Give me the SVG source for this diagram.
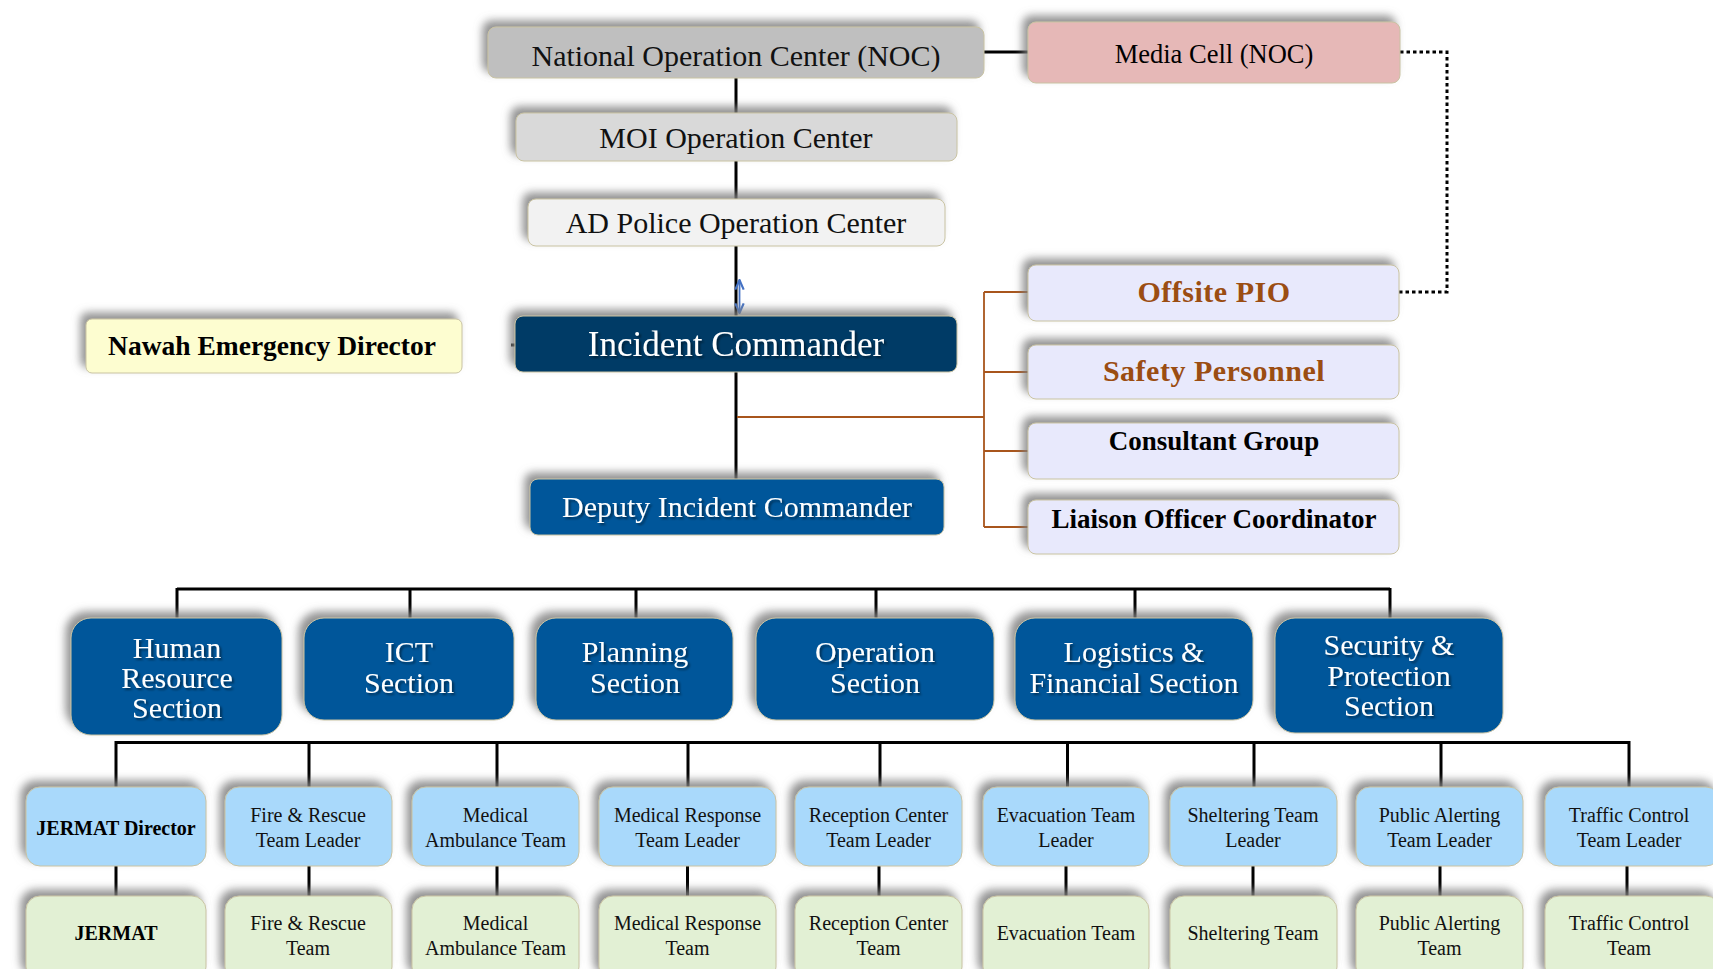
<svg xmlns="http://www.w3.org/2000/svg" width="1713" height="969" viewBox="0 0 1713 969">
<defs>
<filter id="sh" x="-15%" y="-40%" width="130%" height="180%">
<feGaussianBlur in="SourceAlpha" stdDeviation="4"/>
<feOffset dx="-5" dy="-6" result="b"/>
<feFlood flood-color="#7f7f7f" flood-opacity="0.85"/>
<feComposite in2="b" operator="in"/>
<feMerge><feMergeNode/><feMergeNode in="SourceGraphic"/></feMerge>
</filter>
<filter id="ts" x="-5%" y="-20%" width="110%" height="140%">
<feDropShadow dx="2" dy="2" stdDeviation="0.8" flood-color="#000" flood-opacity="0.45"/>
</filter>
<marker id="ab" viewBox="0 0 10 10" refX="9" refY="5" markerWidth="12" markerHeight="12" markerUnits="userSpaceOnUse" orient="auto-start-reverse">
<path d="M1,1.5 L9,5 L1,8.5" fill="none" stroke="#4472C4" stroke-width="1.8"/>
</marker>
</defs>
<style>
text{font-family:"Liberation Serif","Times New Roman",serif;text-anchor:middle}
.box{filter:url(#sh);stroke:#c9c3a3;stroke-width:1}
.top{font-size:30px;fill:#111}
.brn{font-size:30px;font-weight:bold;fill:#9b4d12;letter-spacing:0.5px}
.blk{font-size:27px;font-weight:bold;fill:#000}
.wh{fill:#fff;filter:url(#ts)}
.sec{fill:#03579a}
.sect{font-size:30px;fill:#fff}
.ldr{fill:#a9d9fb}
.tm{fill:#e2f0d4}
.sm{font-size:20px;fill:#111}
.smb{font-size:20px;font-weight:bold;fill:#000}
.ln{stroke:#000;stroke-width:3;fill:none}
.or{stroke:#a8551c;stroke-width:1.8;fill:none}
</style>
<rect width="1713" height="969" fill="#fff"/>

<g id="connectors">
<path class="ln" d="M736,78V113M736,161V199M736,246V316M736,372V479"/>
<path class="ln" d="M984,52H1028"/>
<path d="M1400,52H1447V292H1399" fill="none" stroke="#000" stroke-width="3" stroke-dasharray="3.5 3"/>
<line x1="739.5" y1="280" x2="739.5" y2="313" stroke="#4472C4" stroke-width="1.8" marker-start="url(#ab)" marker-end="url(#ab)"/>
<path class="or" d="M737,417H984M984,292V527M984,292H1028M984,372H1028M984,451H1028M984,527H1028"/>
<path class="ln" stroke-width="1.5" d="M511,345H516"/>
<path class="ln" d="M177,589H1390M177,588V618M410,588V618M636,588V618M876,588V618M1135,588V618M1390,588V618"/>
<path class="ln" d="M115.5,742.5H1629.5M116,741V787M309,741V787M497,741V787M688,741V787M880,741V787M1067.5,741V787M1254,741V787M1441,741V787M1629,741V787"/>
<path class="ln" d="M116,866V896M309,866V896M497,866V896M687.5,866V896M879,866V896M1066,866V896M1253,866V896M1440,866V896M1627,866V896"/>
</g>

<g id="noc"><rect class="box" x="488" y="27" width="496" height="51" rx="8" fill="#bfbfbf"/><text class="top" x="736" y="66">National Operation Center (NOC)</text></g>
<g id="moi"><rect class="box" x="516" y="113" width="441" height="48" rx="8" fill="#d9d9d9"/><text class="top" x="736" y="148">MOI Operation Center</text></g>
<g id="adpolice"><rect class="box" x="528" y="199" width="417" height="47" rx="8" fill="#f2f2f2"/><text class="top" x="736" y="233">AD Police Operation Center</text></g>
<g id="media"><rect class="box" x="1028" y="22" width="372" height="61" rx="8" fill="#e6b8b7"/><text x="1214" y="63" style="font-size:26.5px;fill:#000">Media Cell (NOC)</text></g>
<g id="offsite"><rect class="box" x="1028" y="265" width="371" height="56" rx="8" fill="#e8e9fc"/><text class="brn" x="1214" y="302">Offsite PIO</text></g>
<g id="safety"><rect class="box" x="1028" y="345" width="371" height="54" rx="8" fill="#e8e9fc"/><text class="brn" x="1214" y="381">Safety Personnel</text></g>
<g id="consultant"><rect class="box" x="1028" y="423" width="371" height="56" rx="8" fill="#e8e9fc"/><text class="blk" x="1214" y="450">Consultant Group</text></g>
<g id="liaison"><rect class="box" x="1028" y="500" width="371" height="54" rx="8" fill="#e8e9fc"/><text class="blk" x="1214" y="528">Liaison Officer Coordinator</text></g>
<g id="nawah"><rect class="box" x="86" y="319" width="376" height="54" rx="6" fill="#fdfdd0"/><text class="blk" x="272" y="355" style="font-size:27.5px">Nawah Emergency Director</text></g>
<g id="ic"><rect class="box" x="515" y="316" width="442" height="56" rx="8" fill="#023a66"/><text class="wh" x="736" y="356" style="font-size:35px">Incident Commander</text></g>
<g id="deputy"><rect class="box" x="530" y="479" width="414" height="56" rx="8" fill="#03569a"/><text class="wh" x="737" y="517" style="font-size:30px">Deputy Incident Commander</text></g>

<g id="hr"><rect class="box sec" x="71" y="618" width="211" height="117" rx="20"/><text class="sect wh" x="177"><tspan x="177" y="658">Human</tspan><tspan x="177" y="688">Resource</tspan><tspan x="177" y="718">Section</tspan></text></g>
<g id="ict"><rect class="box sec" x="304" y="618" width="210" height="102" rx="20"/><text class="sect wh" x="409"><tspan x="409" y="662">ICT</tspan><tspan x="409" y="693">Section</tspan></text></g>
<g id="planning"><rect class="box sec" x="536" y="618" width="197" height="102" rx="20"/><text class="sect wh" x="635"><tspan x="635" y="662">Planning</tspan><tspan x="635" y="693">Section</tspan></text></g>
<g id="operation"><rect class="box sec" x="756" y="618" width="238" height="102" rx="20"/><text class="sect wh" x="875"><tspan x="875" y="662">Operation</tspan><tspan x="875" y="693">Section</tspan></text></g>
<g id="logistics"><rect class="box sec" x="1015" y="618" width="238" height="102" rx="20"/><text class="sect wh" x="1134"><tspan x="1134" y="662">Logistics &amp;</tspan><tspan x="1134" y="693">Financial Section</tspan></text></g>
<g id="security"><rect class="box sec" x="1275" y="618" width="228" height="115" rx="20"/><text class="sect wh" x="1389"><tspan x="1389" y="655">Security &amp;</tspan><tspan x="1389" y="686">Protection</tspan><tspan x="1389" y="716">Section</tspan></text></g>

<g id="jermat-director"><rect class="box ldr" x="26" y="787" width="180" height="79" rx="14"/><text class="smb" x="116" y="835">JERMAT Director</text></g>
<g id="fire-leader"><rect class="box ldr" x="225" y="787" width="167" height="79" rx="14"/><text class="sm"><tspan x="308" y="822">Fire &amp; Rescue</tspan><tspan x="308" y="847">Team Leader</tspan></text></g>
<g id="ma-leader"><rect class="box ldr" x="412" y="787" width="167" height="79" rx="14"/><text class="sm"><tspan x="495.5" y="822">Medical</tspan><tspan x="495.5" y="847">Ambulance Team</tspan></text></g>
<g id="mr-leader"><rect class="box ldr" x="599" y="787" width="177" height="79" rx="14"/><text class="sm"><tspan x="687.5" y="822">Medical Response</tspan><tspan x="687.5" y="847">Team Leader</tspan></text></g>
<g id="rc-leader"><rect class="box ldr" x="795" y="787" width="167" height="79" rx="14"/><text class="sm"><tspan x="878.5" y="822">Reception Center</tspan><tspan x="878.5" y="847">Team Leader</tspan></text></g>
<g id="evac-leader"><rect class="box ldr" x="983" y="787" width="166" height="79" rx="14"/><text class="sm"><tspan x="1066" y="822">Evacuation Team</tspan><tspan x="1066" y="847">Leader</tspan></text></g>
<g id="shelter-leader"><rect class="box ldr" x="1170" y="787" width="167" height="79" rx="14"/><text class="sm"><tspan x="1253" y="822">Sheltering Team</tspan><tspan x="1253" y="847">Leader</tspan></text></g>
<g id="pa-leader"><rect class="box ldr" x="1356" y="787" width="167" height="79" rx="14"/><text class="sm"><tspan x="1439.5" y="822">Public Alerting</tspan><tspan x="1439.5" y="847">Team Leader</tspan></text></g>
<g id="tc-leader"><rect class="box ldr" x="1545" y="787" width="175" height="79" rx="14"/><text class="sm"><tspan x="1629" y="822">Traffic Control</tspan><tspan x="1629" y="847">Team Leader</tspan></text></g>

<g id="jermat"><rect class="box tm" x="26" y="896" width="180" height="85" rx="14"/><text class="smb" x="116" y="940">JERMAT</text></g>
<g id="fire-team"><rect class="box tm" x="225" y="896" width="167" height="85" rx="14"/><text class="sm"><tspan x="308" y="930">Fire &amp; Rescue</tspan><tspan x="308" y="955">Team</tspan></text></g>
<g id="ma-team"><rect class="box tm" x="412" y="896" width="167" height="85" rx="14"/><text class="sm"><tspan x="495.5" y="930">Medical</tspan><tspan x="495.5" y="955">Ambulance Team</tspan></text></g>
<g id="mr-team"><rect class="box tm" x="599" y="896" width="177" height="85" rx="14"/><text class="sm"><tspan x="687.5" y="930">Medical Response</tspan><tspan x="687.5" y="955">Team</tspan></text></g>
<g id="rc-team"><rect class="box tm" x="795" y="896" width="167" height="85" rx="14"/><text class="sm"><tspan x="878.5" y="930">Reception Center</tspan><tspan x="878.5" y="955">Team</tspan></text></g>
<g id="evac-team"><rect class="box tm" x="983" y="896" width="166" height="85" rx="14"/><text class="sm" x="1066" y="940">Evacuation Team</text></g>
<g id="shelter-team"><rect class="box tm" x="1170" y="896" width="167" height="85" rx="14"/><text class="sm" x="1253" y="940">Sheltering Team</text></g>
<g id="pa-team"><rect class="box tm" x="1356" y="896" width="167" height="85" rx="14"/><text class="sm"><tspan x="1439.5" y="930">Public Alerting</tspan><tspan x="1439.5" y="955">Team</tspan></text></g>
<g id="tc-team"><rect class="box tm" x="1545" y="896" width="175" height="85" rx="14"/><text class="sm"><tspan x="1629" y="930">Traffic Control</tspan><tspan x="1629" y="955">Team</tspan></text></g>
</svg>
